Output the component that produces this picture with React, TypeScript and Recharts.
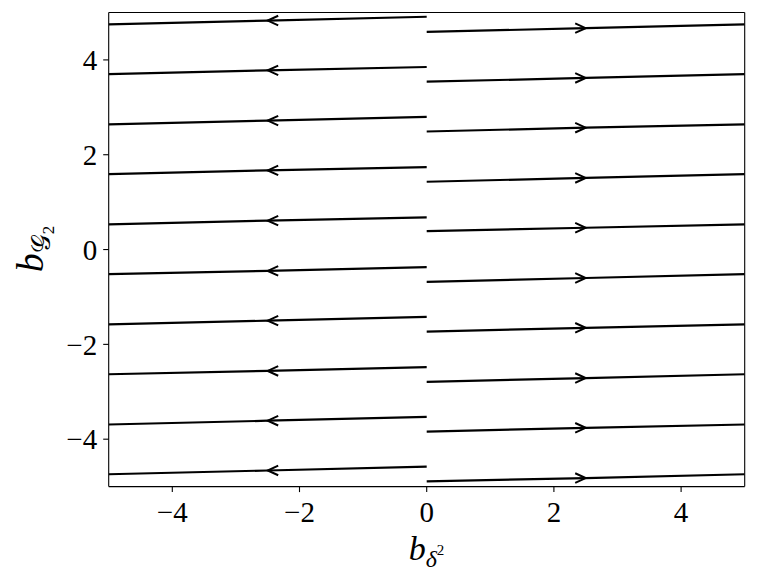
import React from "react";
import { ComposedChart, Line, XAxis, YAxis, ReferenceLine } from "recharts";

// Streamline y-values
const edgeY = [4.75, 3.7, 2.64, 1.59, 0.53, -0.52, -1.58, -2.63, -3.69, -4.74]; // at x = ±5
const leftZeroY = [4.91, 3.85, 2.8, 1.74, 0.68, -0.37, -1.42, -2.48, -3.53, -4.58]; // left branch at x = 0
const rightZeroY = [4.59, 3.54, 2.49, 1.43, 0.39, -0.68, -1.73, -2.79, -3.84, -4.89]; // right branch at x = 0
const leftArrowY = [4.83, 3.78, 2.72, 1.67, 0.61, -0.45, -1.5, -2.56, -3.61, -4.66]; // at x = -2.5
const rightArrowY = [4.67, 3.62, 2.57, 1.51, 0.46, -0.6, -1.65, -2.71, -3.76, -4.82]; // at x = 2.5

const xTicks = [-4, -2, 0, 2, 4];
const yTicks = [-4, -2, 0, 2, 4];

type Pt = { x: number; y: number; arrow?: "left" | "right" };

const leftLines: Pt[][] = edgeY.map((e, i) => [
  { x: 0, y: leftZeroY[i] },
  { x: -2.5, y: leftArrowY[i], arrow: "left" },
  { x: -5, y: e },
]);
const rightLines: Pt[][] = edgeY.map((e, i) => [
  { x: 0, y: rightZeroY[i] },
  { x: 2.5, y: rightArrowY[i], arrow: "right" },
  { x: 5, y: e },
]);

const fmt = (v: number) => (v < 0 ? "\u2212" + Math.abs(v) : String(v));

const FONT = "Liberation Serif";

const renderArrow = (props: any) => {
  const { cx, cy, payload, index } = props;
  const k = `a-${index}-${cx}-${cy}`;
  if (!payload || !payload.arrow || cx == null || cy == null) return <g key={k} />;
  const s = payload.arrow === "left" ? 1 : -1;
  const d = `M ${cx + s * 10.5} ${cy - 4.8} L ${cx} ${cy} L ${cx + s * 10.5} ${cy + 4.8}`;
  return <path key={k} d={d} fill="none" stroke="#000" strokeWidth={2} strokeLinejoin="miter" />;
};

const XTick = (props: any) => {
  const { x, y, payload } = props;
  return (
    <text
      x={x}
      y={y}
      dy="0.71em"
      textAnchor="middle"
      style={{ fontFamily: FONT, fontSize: 29 }}
      fill="#000"
    >
      {fmt(payload.value)}
    </text>
  );
};

const YTick = (props: any) => {
  const { x, y, payload } = props;
  return (
    <text
      x={x}
      y={y}
      dy="0.355em"
      textAnchor="end"
      style={{ fontFamily: FONT, fontSize: 29 }}
      fill="#000"
    >
      {fmt(payload.value)}
    </text>
  );
};

const W = 742;
const H = 569;

export default function App() {
  const allLines = [...leftLines, ...rightLines];
  return (
    <div style={{ position: "relative", width: W, height: H, fontFamily: FONT }}>
      <ComposedChart
        width={W}
        height={H}
        margin={{ top: 4.5, right: 5.3, left: 0, bottom: 0 }}
      >
        <XAxis
          type="number"
          dataKey="x"
          domain={[-5, 5]}
          allowDataOverflow
          ticks={xTicks}
          height={90.4}
          tickSize={5.5}
          tickMargin={9.8}
          axisLine={{ stroke: "#000", strokeWidth: 1.1 }}
          tickLine={{ stroke: "#000", strokeWidth: 1.1 }}
          tick={XTick}
        />
        <YAxis
          type="number"
          dataKey="y"
          domain={[-5, 5]}
          allowDataOverflow
          ticks={yTicks}
          width={100.7}
          tickSize={5.5}
          tickMargin={6}
          axisLine={{ stroke: "#000", strokeWidth: 1.1 }}
          tickLine={{ stroke: "#000", strokeWidth: 1.1 }}
          tick={YTick}
        />
        <ReferenceLine x={5} stroke="#000" strokeWidth={1.1} />
        <ReferenceLine y={5} stroke="#000" strokeWidth={1.1} />
        {allLines.map((pts, i) => (
          <Line
            key={`s-${i}`}
            data={pts}
            dataKey="y"
            type="linear"
            stroke="#000"
            strokeWidth={2.2}
            dot={renderArrow}
            activeDot={false}
            isAnimationActive={false}
          />
        ))}
      </ComposedChart>
      <svg
        width={W}
        height={H}
        style={{ position: "absolute", left: 0, top: 0, pointerEvents: "none" }}
      >
        <text x={418.5} y={552} textAnchor="middle" style={{ fontFamily: FONT }} fill="#000">
          <tspan fontStyle="italic" fontSize={34}>b</tspan>
          <tspan fontStyle="italic" fontSize={24} dy={7}>δ</tspan>
          <tspan fontSize={15} dy={-12}>2</tspan>
        </text>
        <text
          transform="translate(35,241) rotate(-90)"
          textAnchor="middle"
          style={{ fontFamily: FONT }}
          fill="#000"
        >
          <tspan fontStyle="italic" fontSize={38}>b</tspan>
          <tspan fontSize={26} dy={7}>𝒢</tspan>
          <tspan fontSize={17} dy={4}>2</tspan>
        </text>
      </svg>
    </div>
  );
}
